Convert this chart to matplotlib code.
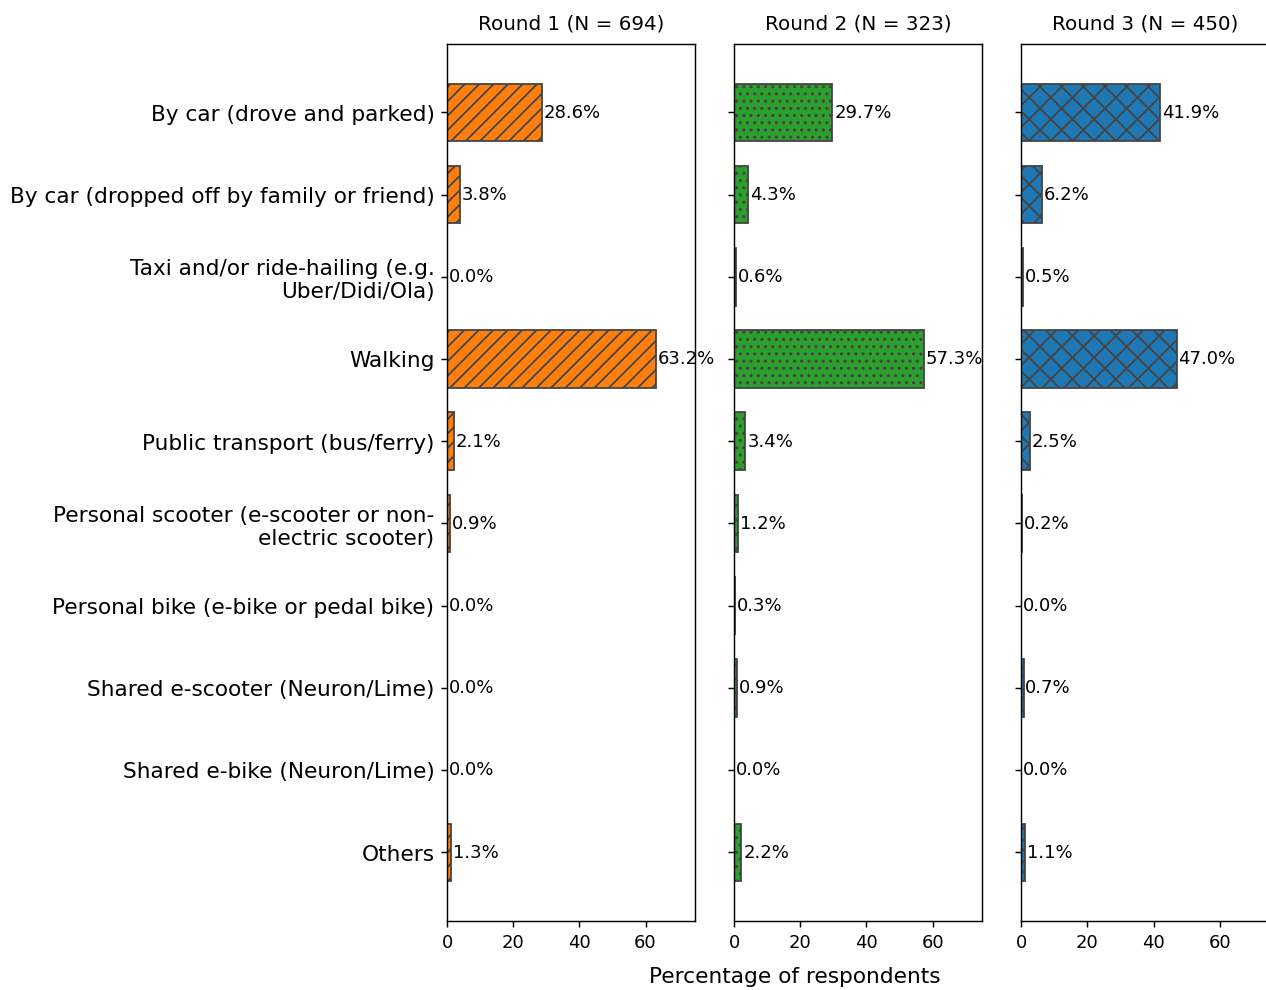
import matplotlib
matplotlib.use("Agg")
import matplotlib.pyplot as plt

modes = [
    "By car (drove and parked)",
    "By car (dropped off by family or friend)",
    "Taxi and/or ride-hailing (e.g.\nUber/Didi/Ola)",
    "Walking",
    "Public transport (bus/ferry)",
    "Personal scooter (e-scooter or non-\nelectric scooter)",
    "Personal bike (e-bike or pedal bike)",
    "Shared e-scooter (Neuron/Lime)",
    "Shared e-bike (Neuron/Lime)",
    "Others",
]
round_titles = ["Round 1 (N = 694)", "Round 2 (N = 323)", "Round 3 (N = 450)"]
round1 = [28.6, 3.8, 0.0, 63.2, 2.1, 0.9, 0.0, 0.0, 0.0, 1.3]
round2 = [29.7, 4.3, 0.6, 57.3, 3.4, 1.2, 0.3, 0.9, 0.0, 2.2]
round3 = [41.9, 6.2, 0.5, 47.0, 2.5, 0.2, 0.0, 0.7, 0.0, 1.1]

colors = ["tab:orange", "tab:green", "tab:blue"]
hatches = ["///", "...", "xx"]

DPI = 130
W, H = 1266, 990
fig = plt.figure(figsize=((W + 0.3) / DPI, (H + 0.3) / DPI), dpi=DPI)

# panel placement in pixels
panel_w = 248
lefts = [447, 734, 1021]
top, bottom = 44, 921

ypos = list(range(len(modes)))

axes = []
for i, (vals, title) in enumerate(zip([round1, round2, round3], round_titles)):
    ax = fig.add_axes([lefts[i] / W, 1 - bottom / H, panel_w / W, (bottom - top) / H],
                      sharey=axes[0] if axes else None)
    bars = ax.barh(ypos, vals, height=0.7, color=colors[i], hatch=hatches[i],
                   edgecolor="#444444", linewidth=1.0)
    ax.bar_label(bars, labels=[f"{v:.1f}%" for v in vals], padding=1, fontsize=10)
    ax.set_xlim(0, 75)
    ax.set_xticks([0, 20, 40, 60])
    ax.tick_params(axis="x", labelsize=10)
    ax.set_title(title, fontsize=11, pad=8.3)
    if i == 0:
        ax.set_yticks(ypos)
        ax.set_yticklabels(modes, fontsize=12)
        ax.invert_yaxis()
    else:
        ax.tick_params(axis="y", labelleft=False)
    axes.append(ax)

fig.text(795 / W, 1 - 977 / H, "Percentage of respondents", ha="center", va="center",
         fontsize=12)

plt.savefig("out.png", dpi=DPI)
